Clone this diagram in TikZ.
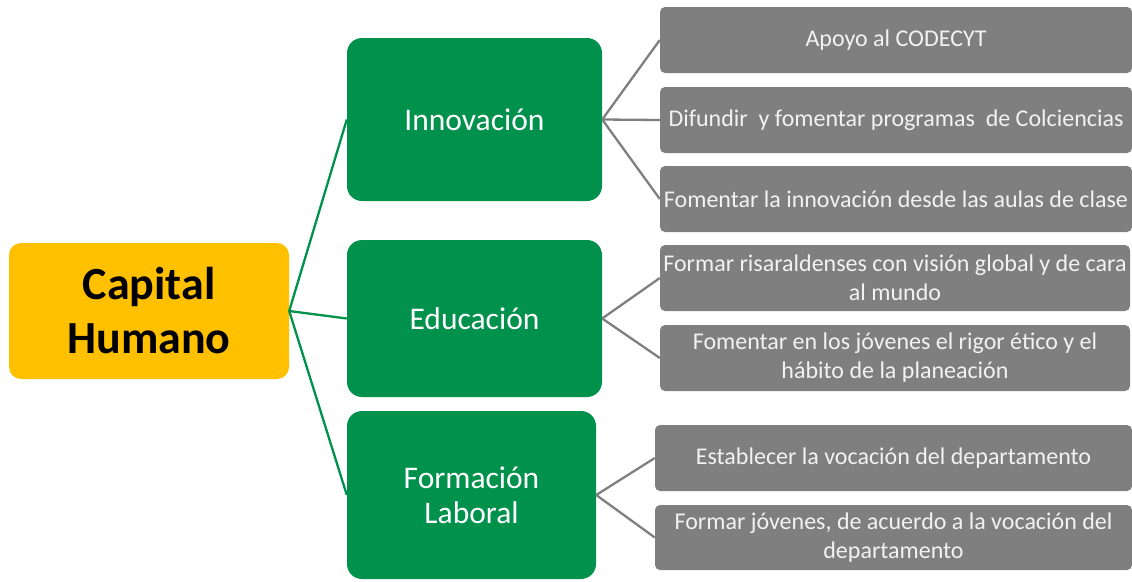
\documentclass[tikz,border=0pt]{standalone}
\usepackage{fontspec}
\setmainfont{Carlito}
\definecolor{capor}{RGB}{255,192,0}
\definecolor{topgreen}{RGB}{0,145,76}
\definecolor{subgray}{RGB}{127,127,127}
\definecolor{subtext}{RGB}{242,242,242}
\tikzset{
  capbox/.style={fill=capor, rounded corners=12pt, inner sep=0pt, align=center,
    font=\bfseries\fontsize{46}{54}\selectfont, text=black},
  topbox/.style={fill=topgreen, rounded corners=15pt, inner sep=0pt, align=center,
    font=\fontsize{31.5}{35}\selectfont, text=white},
  subbox/.style={fill=subgray, rounded corners=5pt, inner sep=0pt, align=center,
    font=\fontsize{24}{29}\selectfont, text=subtext},
  greenlink/.style={draw=topgreen, line width=2.3pt},
  graylink/.style={draw=subgray, line width=2.3pt}
}
\begin{document}
\begin{tikzpicture}[x=1pt,y=-1pt]
\useasboundingbox (0,0) rectangle (1132,581);
\node[capbox, minimum width=280pt, minimum height=136pt] (cap) at (149,311) {Capital\\Humano};
\node[topbox, minimum width=255pt, minimum height=163pt] (inn) at (474.5,119.5) {Innovación};
\node[topbox, minimum width=255pt, minimum height=157pt] (edu) at (474.5,318.5) {Educación};
\node[topbox, minimum width=249pt, minimum height=168pt] (for) at (471.5,495) {Formación\\Laboral};
\node[subbox, minimum width=472pt, minimum height=66pt] (s1) at (896,40) {Apoyo al CODECYT};
\node[subbox, minimum width=472pt, minimum height=66pt] (s2) at (896,120) {Difundir\ \ y fomentar programas\ \ de Colciencias};
\node[subbox, minimum width=472pt, minimum height=66pt] (s3) at (896,199) {Fomentar la innovación desde las aulas de clase};
\node[subbox, minimum width=470pt, minimum height=66pt] (s4) at (895,278) {Formar risaraldenses con visión global y de cara\\al mundo};
\node[subbox, minimum width=470pt, minimum height=66pt] (s5) at (895,358) {Fomentar en los jóvenes el rigor ético y el\\hábito de la planeación};
\node[subbox, minimum width=477pt, minimum height=66pt] (s6) at (893.5,458) {Establecer la vocación del departamento};
\node[subbox, minimum width=477pt, minimum height=65pt] (s7) at (893.5,537.5) {Formar jóvenes, de acuerdo a la vocación del\\departamento};
\draw[greenlink] (cap.east) -- (inn.west);
\draw[greenlink] (cap.east) -- (edu.west);
\draw[greenlink] (cap.east) -- (for.west);
\draw[graylink] (inn.east) -- (s1.west);
\draw[graylink] (inn.east) -- (s2.west);
\draw[graylink] (inn.east) -- (s3.west);
\draw[graylink] (edu.east) -- (s4.west);
\draw[graylink] (edu.east) -- (s5.west);
\draw[graylink] (for.east) -- (s6.west);
\draw[graylink] (for.east) -- (s7.west);
\end{tikzpicture}
\end{document}
